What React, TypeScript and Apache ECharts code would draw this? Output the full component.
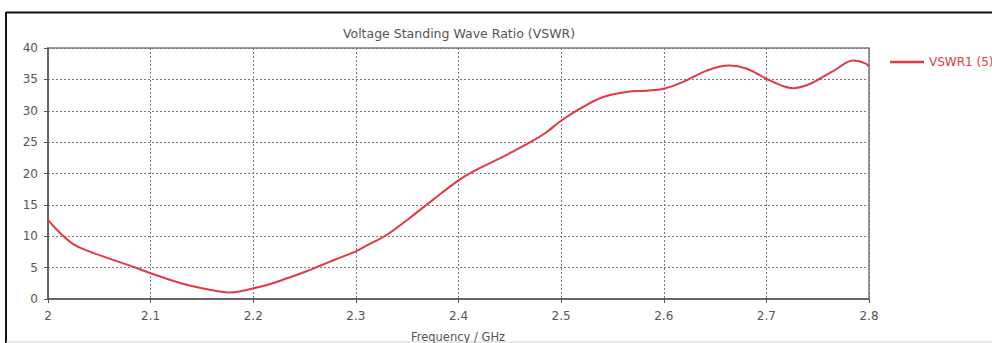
import React, { useEffect, useRef } from "react";
import * as echarts from "echarts";

const freqs = [
  2.0, 2.01, 2.025, 2.04, 2.057, 2.075, 2.087, 2.1, 2.12, 2.139, 2.16, 2.176,
  2.19, 2.2, 2.215, 2.233, 2.25, 2.265, 2.28, 2.3, 2.315, 2.33, 2.35, 2.375,
  2.4, 2.414, 2.44, 2.47, 2.485, 2.5, 2.518, 2.541, 2.564, 2.583, 2.6, 2.619,
  2.642, 2.664, 2.681, 2.7, 2.715, 2.726, 2.74, 2.752, 2.766, 2.785, 2.797, 2.8,
];
const vswr = [
  12.6, 10.8, 8.7, 7.6, 6.6, 5.6, 4.9, 4.1, 3.0, 2.1, 1.4, 1.05,
  1.3, 1.7, 2.3, 3.3, 4.3, 5.3, 6.3, 7.6, 8.9, 10.2, 12.6, 15.8,
  18.9, 20.3, 22.4, 25.0, 26.5, 28.4, 30.3, 32.2, 33.0, 33.2, 33.5, 34.6,
  36.4, 37.2, 36.7, 35.1, 34.0, 33.6, 34.1, 35.1, 36.4, 38.0, 37.5, 37.0,
];
const seriesName = "VSWR1 (5)";
const chartTitle = "Voltage Standing Wave Ratio (VSWR)";
const xAxisTitle = "Frequency / GHz";

export default function App() {
  const ref = useRef<HTMLDivElement>(null);
  useEffect(() => {
    document.body.style.margin = "0";
    const chart = echarts.init(ref.current!, undefined, { renderer: "svg" });
    const font = "DejaVu Sans";
    chart.setOption({
      animation: false,
      backgroundColor: "#ffffff",
      grid: {
        left: 48,
        right: 123,
        top: 48,
        bottom: 44,
        show: true,
        borderColor: "#7a7a7a",
        borderWidth: 1.5,
      },
      legend: {
        left: 885,
        top: 51,
        icon: "rect",
        itemWidth: 34,
        itemHeight: 2.5,
        itemGap: 5,
        data: [seriesName],
        textStyle: { color: "#e23a44", fontSize: 12, fontFamily: font },
      },
      xAxis: {
        type: "value",
        min: 2,
        max: 2.8,
        interval: 0.1,
        axisLine: { show: true, lineStyle: { color: "#555", width: 1.5 } },
        axisTick: { show: true, length: 4, lineStyle: { color: "#555" } },
        axisLabel: {
          color: "#555",
          fontSize: 12,
          fontFamily: font,
          margin: 11,
          formatter: (v: number) => String(Math.round(v * 10) / 10),
        },
        splitLine: {
          show: true,
          lineStyle: { color: "#7a7a7a", type: [2, 2], width: 1 },
        },
      },
      yAxis: {
        type: "value",
        min: 0,
        max: 40,
        interval: 5,
        axisLine: { show: true, lineStyle: { color: "#555", width: 1.5 } },
        axisTick: { show: true, length: 4, lineStyle: { color: "#555" } },
        axisLabel: { color: "#555", fontSize: 12, fontFamily: font, margin: 10 },
        splitLine: {
          show: true,
          lineStyle: { color: "#7a7a7a", type: [2, 2], width: 1 },
        },
      },
      series: [
        {
          name: seriesName,
          type: "line",
          smooth: 0.4,
          showSymbol: false,
          data: freqs.map((f, i) => [f, vswr[i]]),
          lineStyle: { color: "#e23a44", width: 2 },
          itemStyle: { color: "#e23a44" },
        },
      ],
      graphic: [
        {
          type: "line",
          shape: { x1: 6, y1: 12.5, x2: 992, y2: 12.5 },
          style: { stroke: "#111", lineWidth: 2 },
        },
        {
          type: "line",
          shape: { x1: 6, y1: 12, x2: 6, y2: 343 },
          style: { stroke: "#111", lineWidth: 2 },
        },
        {
          type: "line",
          shape: { x1: 6, y1: 342, x2: 992, y2: 342 },
          style: { stroke: "#d0d0d0", lineWidth: 1 },
        },
        {
          type: "text",
          x: 459,
          y: 33,
          style: {
            text: chartTitle,
            fill: "#555",
            font: `12.5px "${font}"`,
            textAlign: "center",
            textVerticalAlign: "middle",
          },
        },
        {
          type: "text",
          x: 458,
          y: 337,
          style: {
            text: xAxisTitle,
            fill: "#555",
            font: `11.5px "${font}"`,
            textAlign: "center",
            textVerticalAlign: "middle",
          },
        },
      ],
    });
    return () => chart.dispose();
  }, []);
  return <div ref={ref} style={{ width: 992, height: 343 }} />;
}
